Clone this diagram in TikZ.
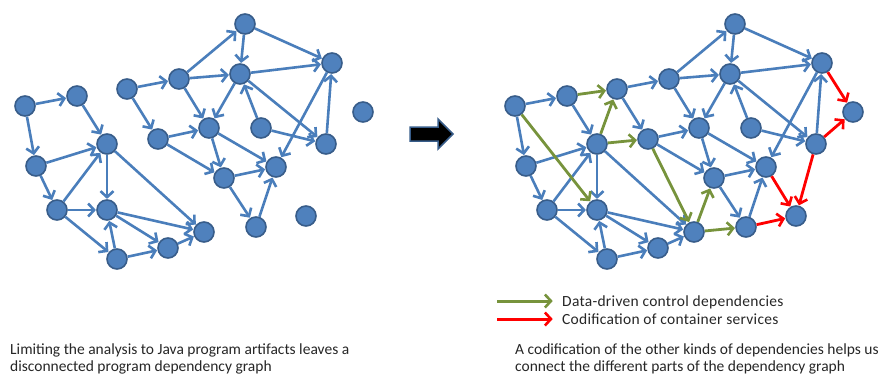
\documentclass[tikz,border=0pt]{standalone}
\usepackage{fontspec}
\setmainfont{Carlito}
\newfontfamily\legfont[LetterSpace=1.8]{Carlito}
\usetikzlibrary{arrows.meta}
\definecolor{nodefill}{HTML}{4F81BD}
\definecolor{nodeline}{HTML}{385D8A}
\definecolor{edgeblue}{HTML}{4A7EBB}
\definecolor{edgegreen}{HTML}{77933C}
\definecolor{edgered}{HTML}{FF0000}
\definecolor{txt}{HTML}{262626}
\tikzset{
  dot/.style={circle, fill=nodefill, draw=nodeline, line width=1.6pt, minimum size=20pt, inner sep=0pt},
  edge/.style={draw=edgeblue, line width=2.6pt, -{Straight Barb[length=6pt,width=13pt,line width=2.6pt]}, shorten >=0.3pt},
  gedge/.style={edge, draw=edgegreen, line width=2.8pt},
  redge/.style={edge, draw=edgered, line width=2.8pt},
  captext/.style={anchor=base west, font=\fontsize{15.5}{18}\selectfont, text=txt, inner sep=0pt},
  legtext/.style={anchor=base west, font=\fontsize{15.5}{18}\legfont, text=txt, inner sep=0pt},
}
\newcommand\drawgraph[2]{%
  \foreach \n/\px/\py in {A/25/106, B/77/96, C/36/166, D/107/144, E/57/210, F/107/210,
      G/117/259, H/168/248, I/204/232, J/127/89, K/179/79, L/245/24, M/240/74,
      N/332/63, O/158/139, P/209/128, Q/261/128, R/326/144, S/276/167, T/224/178,
      U/256/227, V/363/112, W/306/216}
    \node[dot] (#1\n) at (\px+#2,\py) {};
  \foreach \s/\t in {A/B, A/C, B/D, C/D, C/E, E/D, E/F, E/G, D/F, D/I, F/I, F/H,
      G/F, G/H, H/I, J/K, J/O, K/L, K/M, K/P, L/M, L/N, M/N, M/P, M/R, Q/M, Q/R,
      R/N, N/S, O/P, O/T, P/T, P/S, T/S, T/U, U/S}
    \draw[edge] (#1\s) -- (#1\t);
}
\begin{document}
\begin{tikzpicture}[x=1pt, y=-1pt]
\useasboundingbox (0,0) rectangle (881,381);
\drawgraph{L}{0}
\drawgraph{R}{490}
\foreach \s/\t in {B/J, D/J, D/O, A/F, O/I, I/T, I/U}
  \draw[gedge] (R\s) -- (R\t);
\foreach \s/\t in {N/V, R/V, S/W, R/W, U/W}
  \draw[redge] (R\s) -- (R\t);
% block arrow
\draw[fill=black, draw=nodeline, line width=1.5pt, line join=miter]
  (410,127) -- (438,127) -- (438,119) -- (453,134) -- (438,149) -- (438,141) -- (410,141) -- cycle;
% legend
\coordinate (g1) at (497,301); \coordinate (g2) at (553,301);
\coordinate (r1) at (497,319); \coordinate (r2) at (553,319);
\draw[gedge, line width=3pt] (g1) -- (g2);
\draw[redge, line width=3pt] (r1) -- (r2);
\node[legtext] (lg1) at (562,306) {Data-driven control dependencies};
\node[legtext] (lg2) at (562,324) {Codification of container services};
% captions
\node[captext] (c1) at (10,354) {Limiting the analysis to Java program artifacts leaves a};
\node[captext] (c2) at (10,371) {disconnected program dependency graph};
\node[captext] (c3) at (515,354) {A codification of the other kinds of dependencies helps us};
\node[captext] (c4) at (515,371) {connect the different parts of the dependency graph};
\end{tikzpicture}
\end{document}
